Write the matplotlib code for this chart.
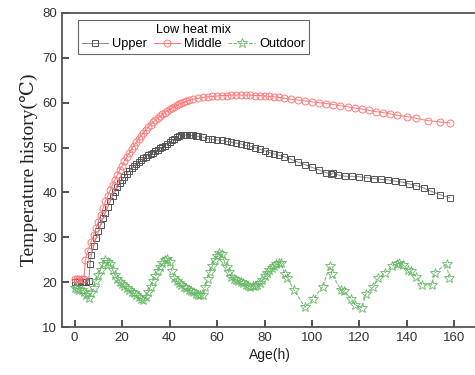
import numpy as np
import matplotlib
matplotlib.use('Agg')
import matplotlib.pyplot as plt

# Upper (black squares)
upper_t = [0, 1, 2, 3, 4, 5, 6, 6.5, 7, 8, 9, 10, 11, 12, 13, 14, 15, 16, 17, 18, 19, 20,
           21, 22, 23, 24, 25, 26, 27, 28, 29, 30, 31, 32, 33, 34, 35, 36, 37, 38, 39, 40,
           41, 42, 43, 44, 45, 46, 47, 48, 49, 50, 51, 52, 54, 56, 58, 60, 62, 64, 66, 68,
           70, 72, 74, 76, 78, 80, 82, 84, 86, 88, 91, 94, 97, 100, 103, 106, 108, 109, 111,
           114, 117, 120, 123, 126, 129, 132, 135, 138, 141, 144, 147, 150, 154, 158]
upper_v = [20, 20, 20, 20, 20, 20, 20.3, 24, 26, 28, 29.8, 31.3, 32.8, 34.2, 35.5, 36.8, 38,
           39.1, 40.1, 41.1, 42, 42.8, 43.5, 44.2, 44.8, 45.4, 45.9, 46.4, 46.8, 47.2, 47.6,
           48, 48.3, 48.6, 48.9, 49.2, 49.5, 49.8, 50.1, 50.4, 50.8, 51.2, 51.6, 52, 52.3,
           52.6, 52.7, 52.8, 52.8, 52.8, 52.7, 52.7, 52.6, 52.5, 52.3, 52.0, 51.8, 51.7,
           51.6, 51.4, 51.2, 51.0, 50.8, 50.5, 50.3, 50.0, 49.6, 49.3, 48.9, 48.6, 48.3,
           48.0, 47.4, 46.8, 46.2, 45.6, 45.0, 44.4, 44.0, 44.4, 43.9, 43.6, 43.6, 43.5,
           43.3, 43.1, 42.9, 42.8, 42.5, 42.3, 41.9, 41.5, 41.0, 40.3, 39.5, 38.8]

# Middle (red circles)
middle_t = [0, 1, 2, 3, 4, 4.5, 5.5, 7, 8, 9, 10, 11, 12, 13, 14, 15, 16, 17, 18, 19, 20,
            21, 22, 23, 24, 25, 26, 27, 28, 29, 30, 31, 32, 33, 34, 35, 36, 37, 38, 39, 40,
            41, 42, 43, 44, 45, 46, 47, 48, 50, 52, 54, 56, 58, 60, 62, 64, 66, 68, 70, 72,
            74, 76, 78, 80, 82, 84, 86, 88, 91, 94, 97, 100, 103, 106, 109, 112, 115, 118,
            121, 124, 127, 130, 133, 136, 140, 144, 149, 154, 158]
middle_v = [20.8, 20.8, 20.8, 20.8, 20.8, 25, 27, 29, 30.5, 32, 33.5, 35, 36.5, 38, 39.3,
            40.5, 41.7, 42.8, 43.9, 45, 46, 47, 47.9, 48.8, 49.6, 50.4, 51.2, 51.9, 52.6,
            53.3, 53.9, 54.5, 55.1, 55.6, 56.1, 56.6, 57, 57.4, 57.8, 58.2, 58.5, 58.8, 59.1,
            59.4, 59.7, 59.9, 60.1, 60.3, 60.5, 60.8, 61, 61.2, 61.3, 61.4, 61.5, 61.6, 61.6,
            61.7, 61.7, 61.7, 61.7, 61.7, 61.6, 61.6, 61.5, 61.4, 61.3, 61.2, 61.0, 60.8,
            60.6, 60.4, 60.2, 60.0, 59.8, 59.6, 59.3, 59.1, 58.8, 58.6, 58.3, 58.0, 57.8,
            57.5, 57.2, 56.9, 56.5, 56.0, 55.7, 55.5]

# Outdoor (green stars)
outdoor_t = [0, 1, 2, 3, 4, 5, 6, 7, 8, 9, 10, 11, 12, 13, 14, 15, 16, 17, 18, 19, 20, 21,
             22, 23, 24, 25, 26, 27, 28, 29, 30, 31, 32, 33, 34, 35, 36, 37, 38, 39, 40, 41,
             42, 43, 44, 45, 46, 47, 48, 49, 50, 51, 52, 53, 54, 55, 56, 57, 58, 59, 60, 61,
             62, 63, 64, 65, 66, 67, 68, 69, 70, 71, 72, 73, 74, 75, 76, 77, 78, 79, 80, 81,
             82, 83, 84, 85, 86, 87, 88.5, 89.5, 92.5, 97, 100.5, 104.5, 107.5, 108.3, 112.3,
             113.5, 116.5, 118, 121, 122.7, 125.8, 128, 130.7, 133.5, 135.6, 136.5, 138.4,
             140.5, 141.5, 144, 146.2, 150.4, 151.8, 156.7, 157.8]
outdoor_v = [18.8, 18.5, 18.3, 18.2, 17.8, 17.2, 16.4, 17.5, 18.6, 20.2, 21.5, 22.8, 24.0,
             25.0, 24.6, 24.0, 22.8, 21.6, 20.8, 20.1, 19.6, 19.1, 18.7, 18.3, 17.9, 17.5,
             17.1, 16.6, 16.3, 16.1, 16.6, 17.8, 19.0, 20.2, 21.3, 22.4, 23.3, 24.2, 24.9,
             25.2, 24.5, 22.5, 21.0, 20.3, 19.8, 19.4, 19.0, 18.7, 18.3, 18.0, 17.7, 17.4,
             17.2, 17.1, 17.2, 19.0, 20.8, 22.3, 23.6, 25.0, 25.8, 26.4, 26.2, 24.8, 23.4,
             22.2, 21.2, 20.7, 20.4, 20.2, 20.0, 19.7, 19.4, 19.2, 19.0, 19.1, 19.2, 19.4,
             19.8, 20.4, 21.3, 22.0, 22.6, 23.1, 23.6, 24.0, 24.3, 24.2, 21.8, 21.0, 18.2,
             14.4, 16.2, 19.0, 23.6, 21.8, 18.2, 18.0, 16.3, 15.0, 14.3, 17.4, 18.9, 20.9,
             22.1, 23.5, 24.1, 24.2, 23.8, 22.6, 22.4, 21.2, 19.4, 19.4, 22.1, 24.1, 20.9]

xticks = [0, 20, 40, 60, 80, 100, 120, 140, 160]
yticks = [10, 20, 30, 40, 50, 60, 70, 80]

plt.rcParams['font.family'] = ['Liberation Sans', 'DejaVu Sans']

fig = plt.figure(figsize=(4.75, 3.75), dpi=100)
ax = fig.add_axes([62 / 475, 48 / 375, 415 / 475, 314 / 375])

ax.plot(upper_t, upper_v, color='#888888', lw=0.7, marker='s', ms=4.5, mfc='none',
        mec='#555555', mew=0.7, label='Upper')
ax.plot(middle_t, middle_v, color='#ff7777', lw=0.7, marker='o', ms=5, mfc='none',
        mec='#ff7a7a', mew=0.7, label='Middle')
ax.plot(outdoor_t, outdoor_v, color='#66bb66', lw=0.7, ls='--', marker='*', ms=7,
        mfc='none', mec='#66b866', mew=0.6, label='Outdoor')

ax.set_xlim(-5.3, 169.5)
ax.set_ylim(10, 80)
ax.set_xticks(xticks)
ax.set_yticks(yticks)
ax.tick_params(direction='in', length=5, width=1.2, color='#333333',
               labelsize=9.5, labelcolor='#333333', top=False, right=False)
for s in ax.spines.values():
    s.set_linewidth(1.3)
    s.set_color('#555555')

ax.set_xlabel('Age(h)', fontsize=10, color='#222222', labelpad=3)
ax.set_ylabel('Temperature history(℃)', fontsize=14, family=['Liberation Serif', 'DejaVu Serif'],
              color='#222222', labelpad=3)

leg = ax.legend(title='Low heat mix', ncol=3, loc='upper left', bbox_to_anchor=(0.038, 0.978),
                borderaxespad=0, fontsize=9.2, title_fontsize=9.2, fancybox=False,
                handlelength=2.1, handletextpad=0.3, columnspacing=0.5, borderpad=0.3,
                labelspacing=0.2, framealpha=1)
leg.get_frame().set_edgecolor('#666666')
leg.get_frame().set_linewidth(0.8)

fig.savefig('out.png', dpi=100)
